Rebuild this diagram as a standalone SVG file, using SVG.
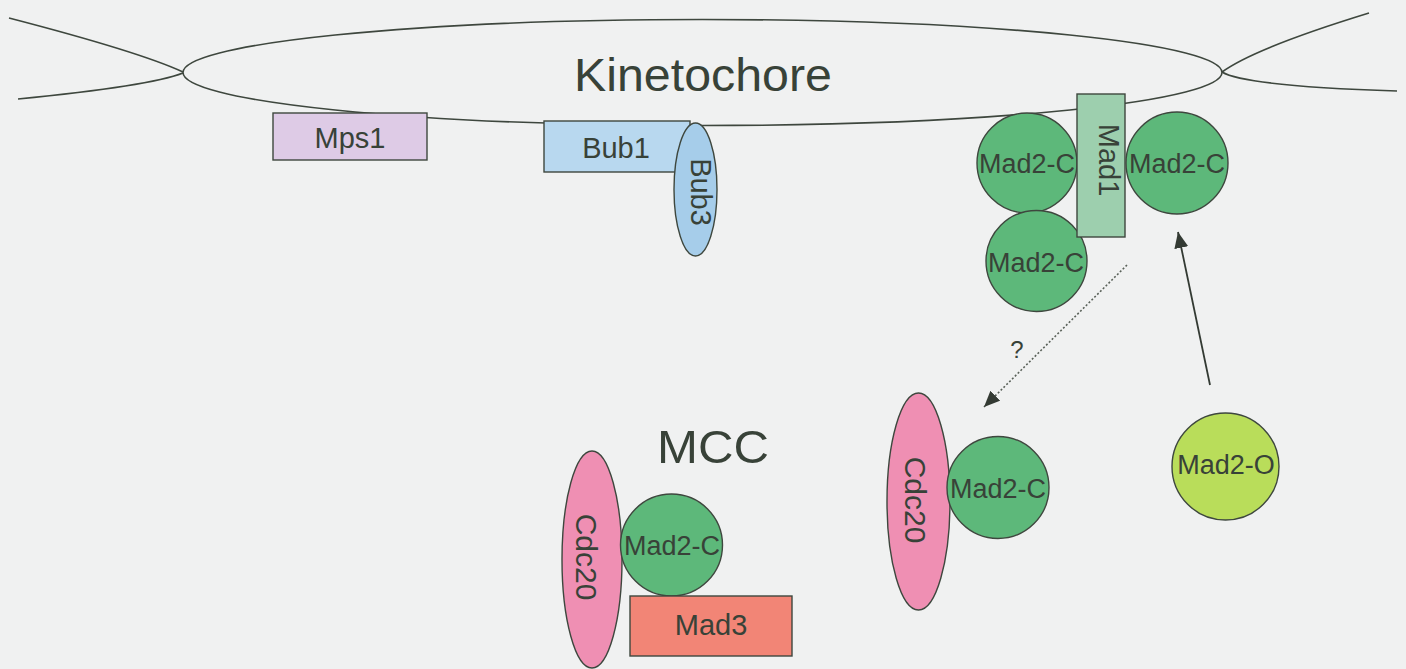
<svg xmlns="http://www.w3.org/2000/svg" width="1406" height="669" viewBox="0 0 1406 669">
  <defs>
    <style>
      .ln { fill: none; stroke: #3e473e; stroke-width: 1.6; }
      .sh { stroke: #3e473e; stroke-width: 1.4; }
      .t { font-family: "Liberation Sans", Arial, sans-serif; fill: #384238; text-anchor: middle; }
      .mad2c { fill: #5db87a; }
      .cdc20 { fill: #ef8fb3; }
    </style>
    <marker id="head" viewBox="0 0 16 14" refX="16" refY="7" markerWidth="16" markerHeight="14" markerUnits="userSpaceOnUse" orient="auto">
      <path d="M0 0 L16 7 L0 14 Z" fill="#333a33"/>
    </marker>
  </defs>

  <rect width="1406" height="669" fill="#f0f1f1"/>

  <!-- kinetochore body with the attached chromatid arms -->
  <g id="kinetochore">
    <ellipse cx="702.5" cy="72.5" rx="519.5" ry="53" class="ln"/>
    <path class="ln" d="M9 18 Q140 52 183 72"/>
    <path class="ln" d="M18 99 Q150 86 183 73"/>
    <path class="ln" d="M1222 72 Q1255 48 1369 13"/>
    <path class="ln" d="M1222 72 Q1245 86 1397 91"/>
    <text class="t" x="703" y="91" font-size="47" textLength="258" lengthAdjust="spacingAndGlyphs">Kinetochore</text>
  </g>

  <g id="mps1">
    <rect class="sh" x="273" y="113" width="154" height="47" fill="#decbe6"/>
    <text class="t" x="350" y="148" font-size="29">Mps1</text>
  </g>

  <g id="bub1">
    <rect class="sh" x="544" y="121" width="146" height="51" fill="#b8d8ef"/>
    <text class="t" x="616" y="158" font-size="29">Bub1</text>
  </g>

  <g id="bub3">
    <ellipse class="sh" cx="695.5" cy="189.5" rx="21.5" ry="66.5" fill="#a6cdea"/>
    <text class="t" font-size="29" transform="translate(691 192) rotate(90)" y="0">Bub3</text>
  </g>

  <g id="mad2c-left">
    <circle class="sh mad2c" cx="1027" cy="163" r="50"/>
    <text class="t" x="1027" y="173" font-size="27">Mad2-C</text>
  </g>

  <g id="mad2c-lower">
    <circle class="sh mad2c" cx="1036.5" cy="261" r="50.5"/>
    <text class="t" x="1036" y="272" font-size="27">Mad2-C</text>
  </g>

  <g id="mad1">
    <rect class="sh" x="1077" y="94" width="48" height="143" fill="#9dcfae"/>
    <text class="t" font-size="29" transform="translate(1099 160) rotate(90)" y="0">Mad1</text>
  </g>

  <g id="mad2c-right">
    <circle class="sh mad2c" cx="1177" cy="163" r="51"/>
    <text class="t" x="1177" y="173" font-size="27">Mad2-C</text>
  </g>

  <g id="cdc20-free">
    <ellipse class="sh cdc20" cx="918.5" cy="501.5" rx="31.5" ry="108.5"/>
    <text class="t" font-size="30" transform="translate(905 500) rotate(90)" y="0">Cdc20</text>
  </g>

  <g id="mad2c-bound">
    <circle class="sh mad2c" cx="998" cy="487.5" r="51"/>
    <text class="t" x="998" y="498" font-size="27">Mad2-C</text>
  </g>

  <g id="mad2o">
    <circle class="sh" cx="1225.5" cy="466.5" r="53.5" fill="#b9dd5a"/>
    <text class="t" x="1226" y="474" font-size="27">Mad2-O</text>
  </g>

  <!-- mitotic checkpoint complex -->
  <g id="mcc">
    <text class="t" x="713" y="463" font-size="47" textLength="112" lengthAdjust="spacingAndGlyphs">MCC</text>
  </g>

  <g id="mcc-cdc20">
    <ellipse class="sh cdc20" cx="592" cy="559.5" rx="30" ry="108.5"/>
    <text class="t" font-size="30" transform="translate(576 557) rotate(90)" y="0">Cdc20</text>
  </g>

  <g id="mcc-mad2c">
    <circle class="sh mad2c" cx="671.5" cy="545" r="51"/>
    <text class="t" x="672" y="555" font-size="27">Mad2-C</text>
  </g>

  <g id="mcc-mad3">
    <rect class="sh" x="630" y="596" width="162" height="60" fill="#f28576"/>
    <text class="t" x="711" y="635" font-size="29">Mad3</text>
  </g>

  <g id="connectors">
    <line x1="1210" y1="385" x2="1178" y2="232" stroke="#333a33" stroke-width="1.8" marker-end="url(#head)"/>
    <line x1="1127" y1="265" x2="984" y2="407" stroke="#5a625a" stroke-width="1.6" stroke-dasharray="2 2" marker-end="url(#head)"/>
    <text class="t" x="1017" y="358" font-size="24">?</text>
  </g>
</svg>
